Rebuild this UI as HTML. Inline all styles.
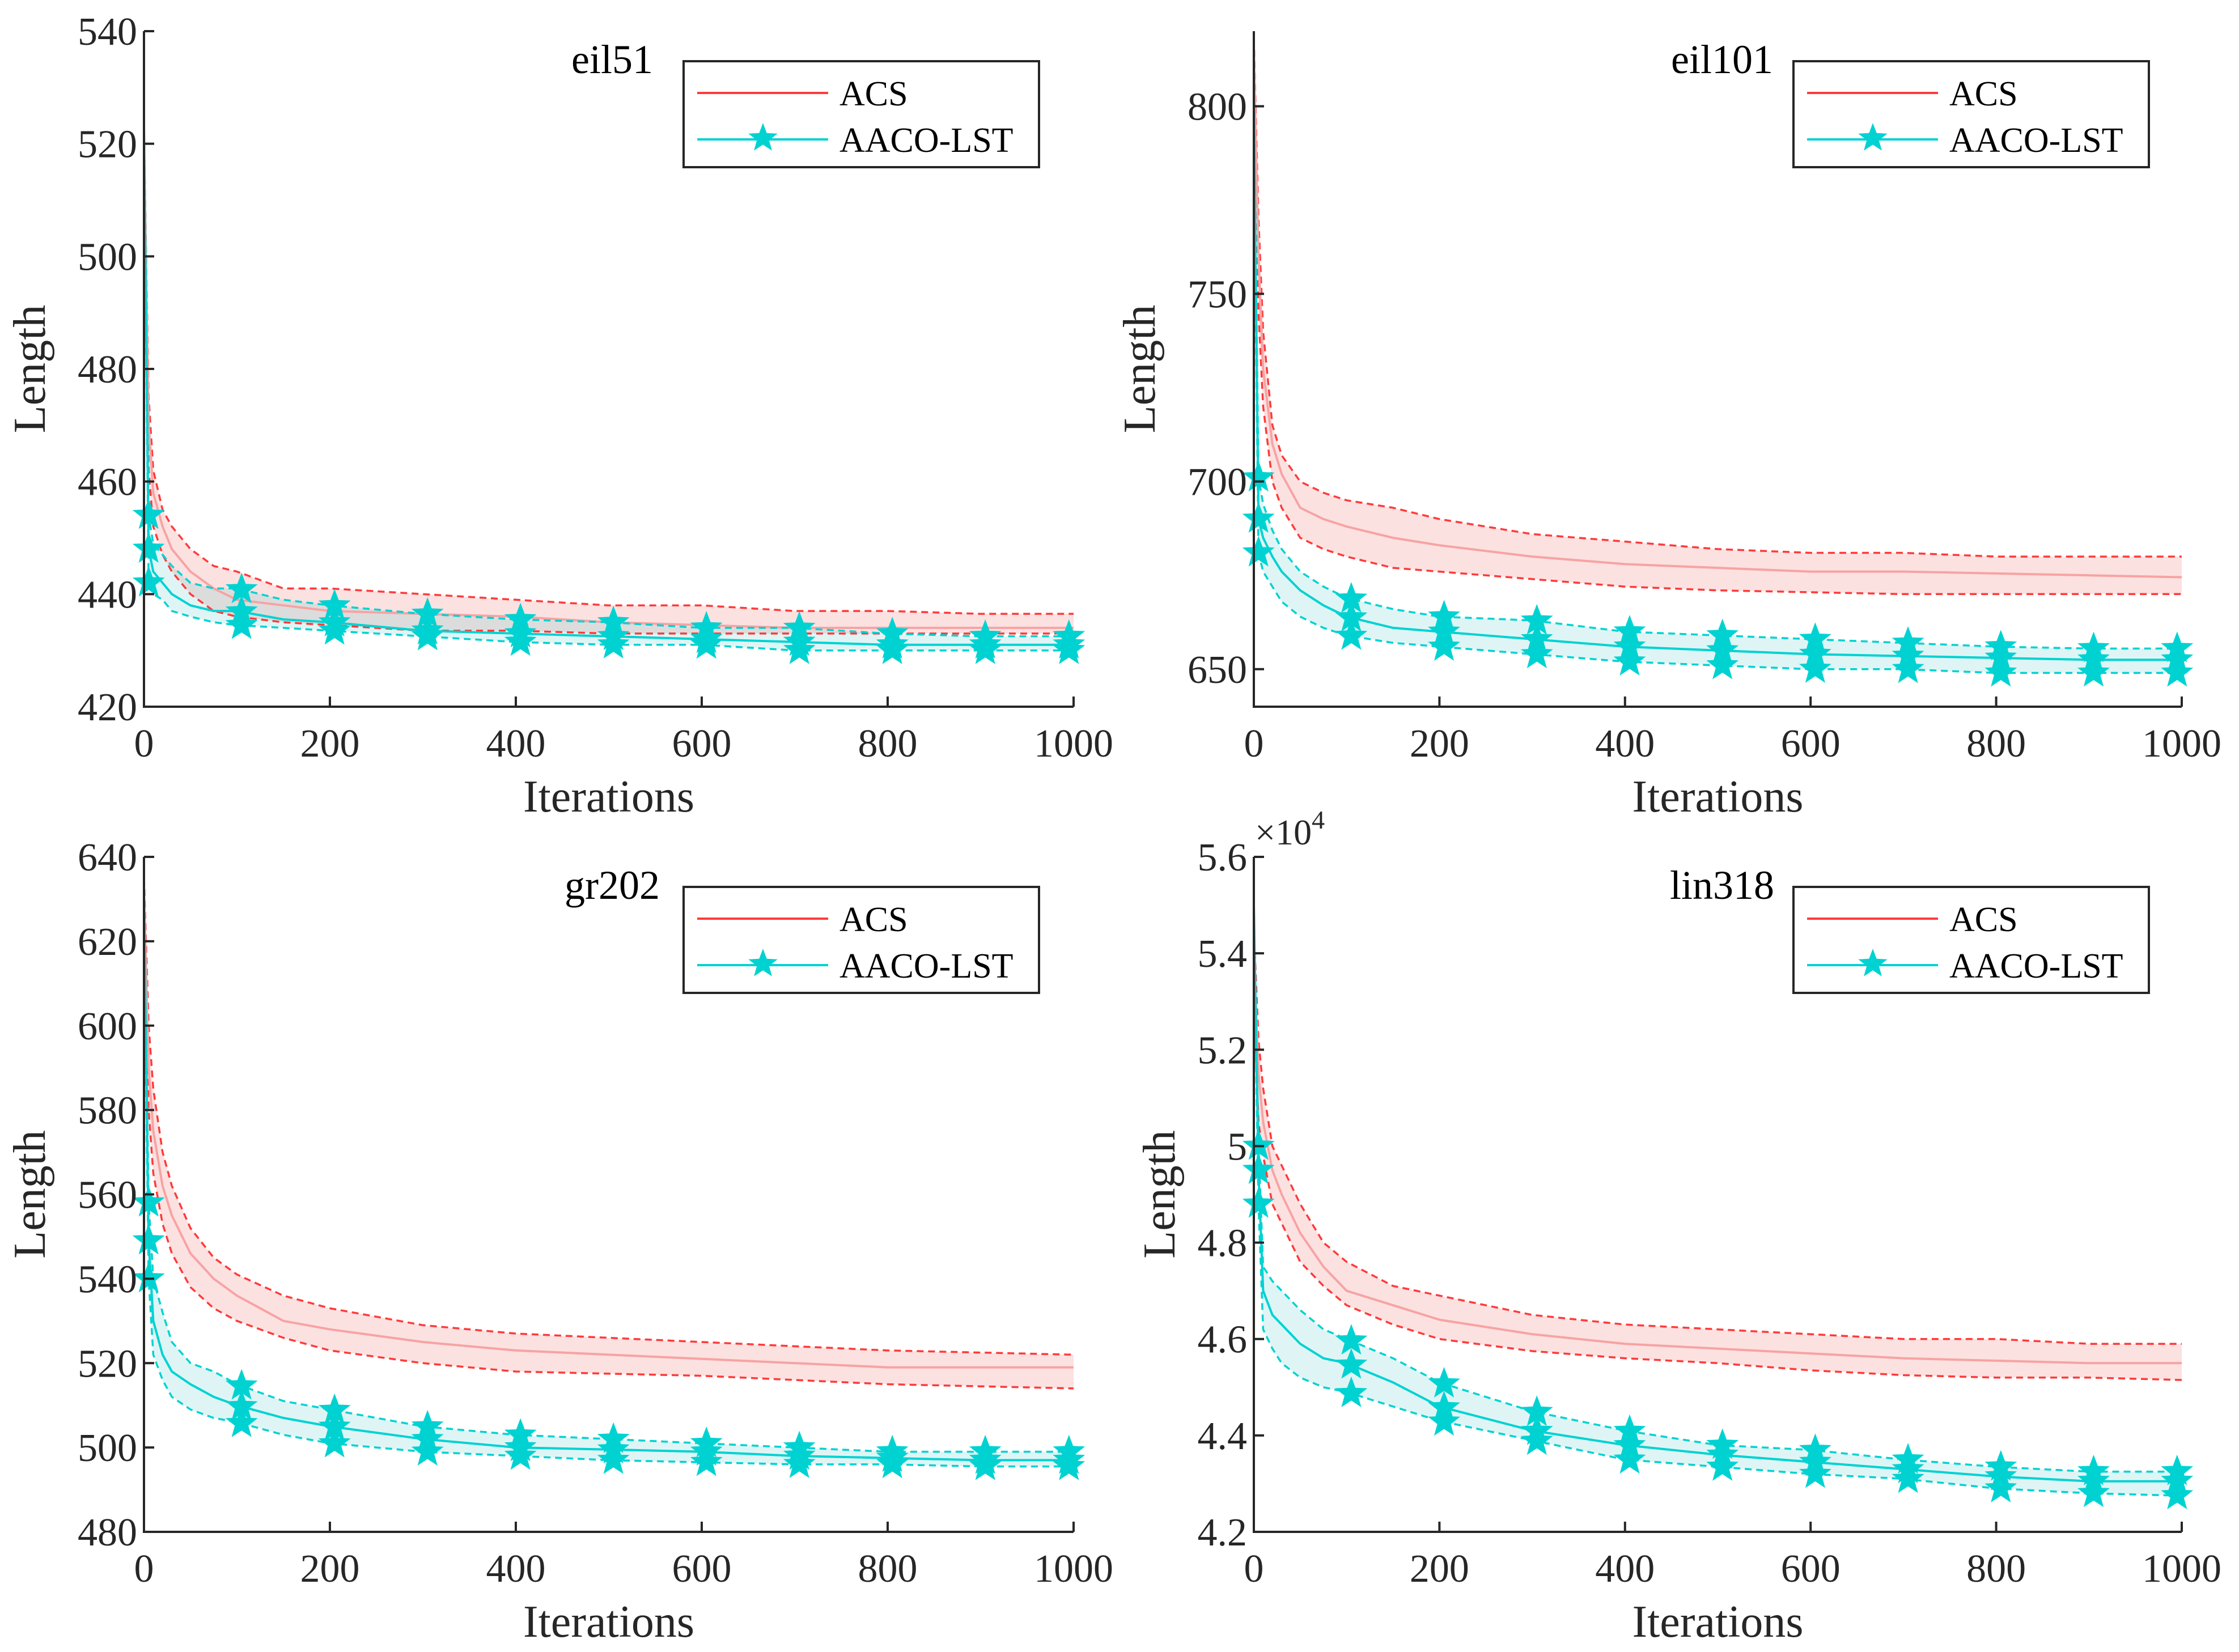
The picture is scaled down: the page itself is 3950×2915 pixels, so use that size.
<!DOCTYPE html>
<html><head><meta charset="utf-8">
<style>
html,body{margin:0;padding:0;background:#fff;}
svg{display:block;font-family:"Liberation Serif",serif;}
</style></head>
<body>
<svg id="chart" width="3950" height="2915" viewBox="0 0 3950 2915" xmlns="http://www.w3.org/2000/svg"></svg>
<script>
const iters = [0,5,10,20,30,50,75,100,150,200,300,400,500,600,700,800,900,1000];
const markerIters = [5,105,205,305,405,505,605,705,805,905,995];
const xTicks = [0,200,400,600,800,1000];

const eil51AcsMean  = [520,470,458,452,448,444,441,439,438,437,436.5,436,435,434.5,434,434,434,434];
const eil51AcsUp    = [522,475,462,455,452,448,445,444,441,441,440,439,438,438,437,437,436.5,436.5];
const eil51AcsLo    = [515,462,452,447,444,440,437,436,435,434.5,433.5,433.5,433,433,433,433,433,433];
const eil51AacoMean = [523,448,444,442,440,438,437,437,435.5,435,433.5,433,432.5,432,431.5,431,431,431];
const eil51AacoUp   = [523,454,449,447,445,442,441,441,439,438,436.5,435.5,435,434,434,433,432.5,432.5];
const eil51AacoLo   = [520,442,440,439,437,436,435,434.5,434,433.5,432.5,431.5,431,431,430,430,430,430];
const eil51YTicks = [420,440,460,480,500,520,540];

const eil101AcsMean  = [815,760,730,710,702,693,690,688,685,683,680,678,677,676,676,675.5,675,674.5];
const eil101AcsUp    = [818,770,740,715,707,700,697,695,693,690,686,684,682,681,681,680,680,680];
const eil101AcsLo    = [805,745,720,700,693,685,682,680,677,676,674,672,671,670.5,670,670,670,670];
const eil101AacoMean = [800,690,685,680,676,671,667,664,661,660,658,656,655,654,653.5,653,652.5,652.5];
const eil101AacoUp   = [805,701,694,687,682,676,672,669,666,664,663,660,659,658,657,656,655.5,655.5];
const eil101AacoLo   = [790,681,676,672,668,664,661,659,657,656,654,652,651,650,650,649,649,649];
const eil101YTicks = [650,700,750,800];

const gr202AcsMean  = [632,590,575,562,555,546,540,536,530,528,525,523,522,521,520,519,519,519];
const gr202AcsUp    = [635,600,585,570,562,552,545,541,536,533,529,527,526,525,524,523,522.5,522];
const gr202AcsLo    = [625,580,565,553,546,538,533,530,526,523,520,518,517.5,517,516,515,514.5,514];
const gr202AacoMean = [630,549,530,522,518,515,512,510,507,505,502,500,499.5,499,498,497.5,497,497];
const gr202AacoUp   = [632,558,540,532,525,520,518,515,511,509,505,503,502,501,500,499,499,499];
const gr202AacoLo   = [625,540,522,516,512,509,507,506,503,501,499,498,497,496.5,496,496,495.5,495.5];
const gr202YTicks = [480,500,520,540,560,580,600,620,640];

const lin318AcsMean  = [5.4,5.15,5.05,4.95,4.9,4.82,4.75,4.7,4.67,4.64,4.61,4.59,4.58,4.57,4.56,4.555,4.55,4.55];
const lin318AcsUp    = [5.45,5.22,5.12,5.0,4.96,4.88,4.8,4.76,4.71,4.69,4.65,4.63,4.62,4.61,4.6,4.6,4.59,4.59];
const lin318AcsLo    = [5.3,5.05,4.98,4.88,4.84,4.76,4.71,4.67,4.63,4.6,4.575,4.56,4.55,4.535,4.525,4.52,4.52,4.515];
const lin318AacoMean = [5.5,4.95,4.7,4.65,4.63,4.59,4.56,4.55,4.51,4.46,4.41,4.38,4.36,4.345,4.33,4.315,4.305,4.305];
const lin318AacoUp   = [5.5,5.0,4.75,4.72,4.7,4.66,4.62,4.6,4.56,4.51,4.45,4.41,4.38,4.37,4.35,4.335,4.325,4.325];
const lin318AacoLo   = [5.45,4.88,4.62,4.58,4.55,4.52,4.5,4.49,4.46,4.43,4.39,4.35,4.335,4.32,4.31,4.29,4.28,4.275];
const lin318YTicks = [4.2,4.4,4.6,4.8,5,5.2,5.4,5.6];

const NS="http://www.w3.org/2000/svg";
const svg=document.getElementById('chart');
function mk(tag,attrs,parent){const e=document.createElementNS(NS,tag);for(const k in attrs)e.setAttribute(k,attrs[k]);(parent||svg).appendChild(e);return e;}
function interp(xs,ys,x){for(let i=1;i<xs.length;i++){if(x<=xs[i]){const t=(x-xs[i-1])/(xs[i]-xs[i-1]);return ys[i-1]+t*(ys[i]-ys[i-1]);}}return ys[ys.length-1];}
function starPts(cx,cy,R){const r=R*0.42;let p=[];for(let i=0;i<10;i++){const a=-Math.PI/2+i*Math.PI/5;const rr=i%2?r:R;p.push((cx+rr*Math.cos(a)).toFixed(1)+','+(cy+rr*Math.sin(a)).toFixed(1));}return p.join(' ');}

const RED='#ff3a3a', REDM='#f7a3a3', REDF='rgba(240,120,120,0.22)';
const CY='#00d2d2', CYF='rgba(80,200,200,0.18)';

function panel(o){
  const g=mk('g',{});
  
  
  const X=v=>o.x0+(v-0)/1000*(o.x1-o.x0);
  const Y=v=>o.y1-(v-o.ymin)/(o.ymax-o.ymin)*(o.y1-o.y0);
  const pathOf=arr=>iters.map((it,i)=>(i?'L':'M')+X(it).toFixed(1)+','+Y(arr[i]).toFixed(1)).join(' ');
  const band=(up,lo,fill,nm)=>{
    let d=iters.map((it,i)=>(i?'L':'M')+X(it).toFixed(1)+','+Y(up[i]).toFixed(1)).join(' ');
    for(let i=iters.length-1;i>=0;i--)d+='L'+X(iters[i]).toFixed(1)+','+Y(lo[i]).toFixed(1);
    const p=mk('path',{d:d+'Z',fill:fill,stroke:'none'},g);
    
    
  };
  band(o.acsUp,o.acsLo,REDF,o.name+'-acs-band');
  band(o.aacoUp,o.aacoLo,CYF,o.name+'-aaco-band');
  const line=(arr,col,dash,nm,w)=>{const p=mk('path',{d:pathOf(arr),fill:'none',stroke:col,'stroke-width':w||3.5,'stroke-dasharray':dash||'none'},g);
    
    };
  line(o.acsUp,RED,'12 8',o.name+'-acs-upper');
  line(o.acsLo,RED,'12 8',o.name+'-acs-lower');
  line(o.acsMean,REDM,null,o.name+'-acs-mean',4);
  line(o.aacoUp,CY,'12 8',o.name+'-aaco-upper');
  line(o.aacoLo,CY,'12 8',o.name+'-aaco-lower');
  line(o.aacoMean,CY,null,o.name+'-aaco-mean',4);
  [o.aacoUp,o.aacoMean,o.aacoLo].forEach(arr=>{
    markerIters.forEach(m=>{
      const s=mk('polygon',{points:starPts(X(m),Y(interp(iters,arr,m)),27),fill:CY,stroke:CY,'stroke-width':2},g);
      
      
    });
  });
  const ax=mk('path',{d:`M${o.x0},${o.y0} L${o.x0},${o.y1} L${o.x1},${o.y1}`,fill:'none',stroke:'#262626','stroke-width':4},g);
  
  
  xTicks.forEach(t=>{
    mk('line',{x1:X(t),x2:X(t),y1:o.y1,y2:o.y1-18,stroke:'#262626','stroke-width':4},g);
    const tx=mk('text',{x:X(t),y:o.y1+88,'text-anchor':'middle','font-size':70,fill:'#262626'},g);
    tx.textContent=t;
    
    
  });
  o.yTicks.forEach(t=>{
    mk('line',{x1:o.x0,x2:o.x0+18,y1:Y(t),y2:Y(t),stroke:'#262626','stroke-width':4},g);
    const tx=mk('text',{x:o.x0-12,y:Y(t)+24,'text-anchor':'end','font-size':70,fill:'#262626'},g);
    tx.textContent=t;
    
    
  });
  const xl=mk('text',{x:(o.x0+o.x1)/2,y:o.y1+185,'text-anchor':'middle','font-size':80,fill:'#262626'},g);
  xl.textContent='Iterations';
  
  
  const yl=mk('text',{x:0,y:0,'text-anchor':'middle','font-size':80,fill:'#262626',transform:`translate(${o.x0-(o.exp?140:175)},${(o.y0+o.y1)/2}) rotate(-90)`},g);
  yl.textContent='Length';
  
  
  if(o.exp){
    const ex=mk('text',{x:o.x0+2,y:o.y0-22,'font-size':64,fill:'#262626'},g);
    ex.innerHTML='×10<tspan dy="-28" font-size="46">4</tspan>';
    
    
  }
  const ti=mk('text',{x:o.x0+826,y:o.y0+74,'text-anchor':'middle','font-size':72,fill:'#000'},g);
  ti.textContent=o.title;
  
  
  const lx=o.x0+952, ly=o.y0+53;
  const lg=mk('g',{},g);
  
  
  mk('rect',{x:lx,y:ly,width:627,height:187,fill:'#fff',stroke:'#262626','stroke-width':4},lg);
  mk('line',{x1:lx+24,x2:lx+255,y1:ly+56,y2:ly+56,stroke:RED,'stroke-width':4},lg);
  const t1=mk('text',{x:lx+275,y:ly+78,'font-size':62,fill:'#000'},lg);
  t1.textContent='ACS';
  
  
  mk('line',{x1:lx+24,x2:lx+255,y1:ly+138,y2:ly+138,stroke:CY,'stroke-width':4},lg);
  mk('polygon',{points:starPts(lx+140,ly+136,27),fill:CY},lg);
  const t2=mk('text',{x:lx+275,y:ly+160,'font-size':62,fill:'#000'},lg);
  t2.textContent='AACO-LST';
  
  
}

panel({name:'eil51',title:'eil51',x0:254,x1:1894,y0:55,y1:1247,ymin:420,ymax:540,yTicks:eil51YTicks,
  acsMean:eil51AcsMean,acsUp:eil51AcsUp,acsLo:eil51AcsLo,aacoMean:eil51AacoMean,aacoUp:eil51AacoUp,aacoLo:eil51AacoLo});
panel({name:'eil101',title:'eil101',x0:2212,x1:3849,y0:55,y1:1247,ymin:640,ymax:820,yTicks:eil101YTicks,
  acsMean:eil101AcsMean,acsUp:eil101AcsUp,acsLo:eil101AcsLo,aacoMean:eil101AacoMean,aacoUp:eil101AacoUp,aacoLo:eil101AacoLo});
panel({name:'gr202',title:'gr202',x0:254,x1:1894,y0:1512,y1:2703,ymin:480,ymax:640,yTicks:gr202YTicks,
  acsMean:gr202AcsMean,acsUp:gr202AcsUp,acsLo:gr202AcsLo,aacoMean:gr202AacoMean,aacoUp:gr202AacoUp,aacoLo:gr202AacoLo});
panel({name:'lin318',title:'lin318',x0:2212,x1:3849,y0:1512,y1:2703,ymin:4.2,ymax:5.6,yTicks:lin318YTicks,exp:true,
  acsMean:lin318AcsMean,acsUp:lin318AcsUp,acsLo:lin318AcsLo,aacoMean:lin318AacoMean,aacoUp:lin318AacoUp,aacoLo:lin318AacoLo});
</script>
</body></html>
